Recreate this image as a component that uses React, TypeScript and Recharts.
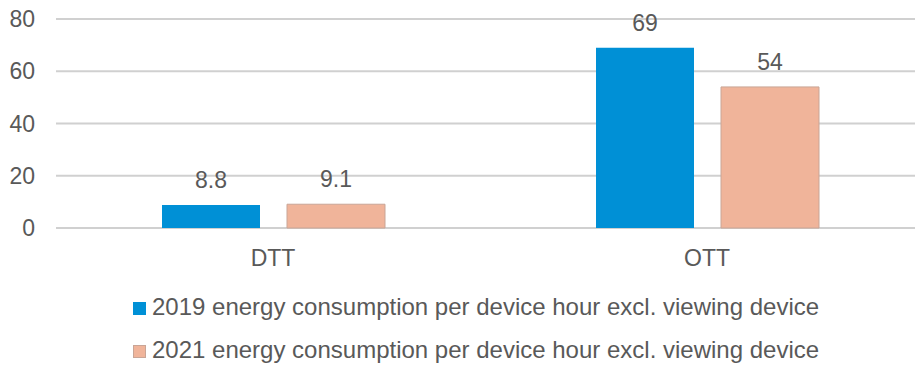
import React from 'react';
import { BarChart, Bar, XAxis, YAxis, CartesianGrid, LabelList, Legend } from 'recharts';

// Platform categories
const platforms = ['DTT', 'OTT'];
// Energy consumption per device hour (excl. viewing device)
const values2019 = [8.8, 69];
const values2021 = [9.1, 54];
// Value axis ticks
const yTicks = [0, 20, 40, 60, 80];

const seriesNames = [
  '2019 energy consumption per device hour excl. viewing device',
  '2021 energy consumption per device hour excl. viewing device',
];

const data = platforms.map((p, i) => ({
  platform: p,
  y2019: values2019[i],
  y2021: values2021[i],
}));

const FONT = 'Liberation Sans, Arial, sans-serif';
const TEXT = '#595959';
const BLUE = '#0090D6';
const SALMON = '#F0B49A';
const SALMON_EDGE = '#C9A596';

const LegendBox = (props: any) => {
  const items = props.payload || [];
  return (
    <div style={{ fontFamily: FONT, fontSize: 24, lineHeight: '28px', color: TEXT, whiteSpace: 'nowrap' }}>
      {items.map((it: any, i: number) => (
        <div key={i} style={{ display: 'flex', alignItems: 'center', height: 43 }}>
          <span
            style={{
              display: 'inline-block',
              width: 13,
              height: 13,
              marginTop: 4,
              background: it.color,
              boxSizing: 'border-box',
              border: i === 1 ? `1px solid ${SALMON_EDGE}` : 'none',
              marginRight: 6,
            }}
          />
          <span>{it.value}</span>
        </div>
      ))}
    </div>
  );
};

export default function App() {
  return (
    <div
      style={{
        position: 'absolute',
        left: 0,
        top: 0,
        width: 915,
        height: 369,
        overflow: 'hidden',
        background: '#fff',
      }}
    >
      <BarChart
        width={924}
        height={369}
        data={data}
        margin={{ top: 19, right: 0, left: 0, bottom: 91 }}
        barCategoryGap={106}
        barGap={27}
      >
        <CartesianGrid vertical={false} stroke="#D0D0D0" strokeWidth={2} />
        <XAxis
          dataKey="platform"
          axisLine={false}
          tickLine={false}
          tickSize={0}
          tickMargin={22}
          height={50}
          tick={{ fill: TEXT, fontSize: 23, fontFamily: FONT }}
        />
        <YAxis
          domain={[0, 80]}
          ticks={yTicks}
          axisLine={false}
          tickLine={false}
          tickSize={0}
          tickMargin={21}
          width={56}
          tick={{ fill: TEXT, fontSize: 23, fontFamily: FONT }}
        />
        <Legend
          layout="vertical"
          align="center"
          verticalAlign="middle"
          content={LegendBox}
          wrapperStyle={{ top: 285, left: 133, width: 770 }}
        />
        <Bar dataKey="y2019" name={seriesNames[0]} fill={BLUE} isAnimationActive={false}>
          <LabelList dataKey="y2019" position="top" offset={17} fill={TEXT} fontSize={23} fontFamily={FONT} />
        </Bar>
        <Bar dataKey="y2021" name={seriesNames[1]} fill={SALMON} stroke={SALMON_EDGE} strokeWidth={1} isAnimationActive={false}>
          <LabelList dataKey="y2021" position="top" offset={17} fill={TEXT} fontSize={23} fontFamily={FONT} stroke="none" />
        </Bar>
      </BarChart>
    </div>
  );
}
